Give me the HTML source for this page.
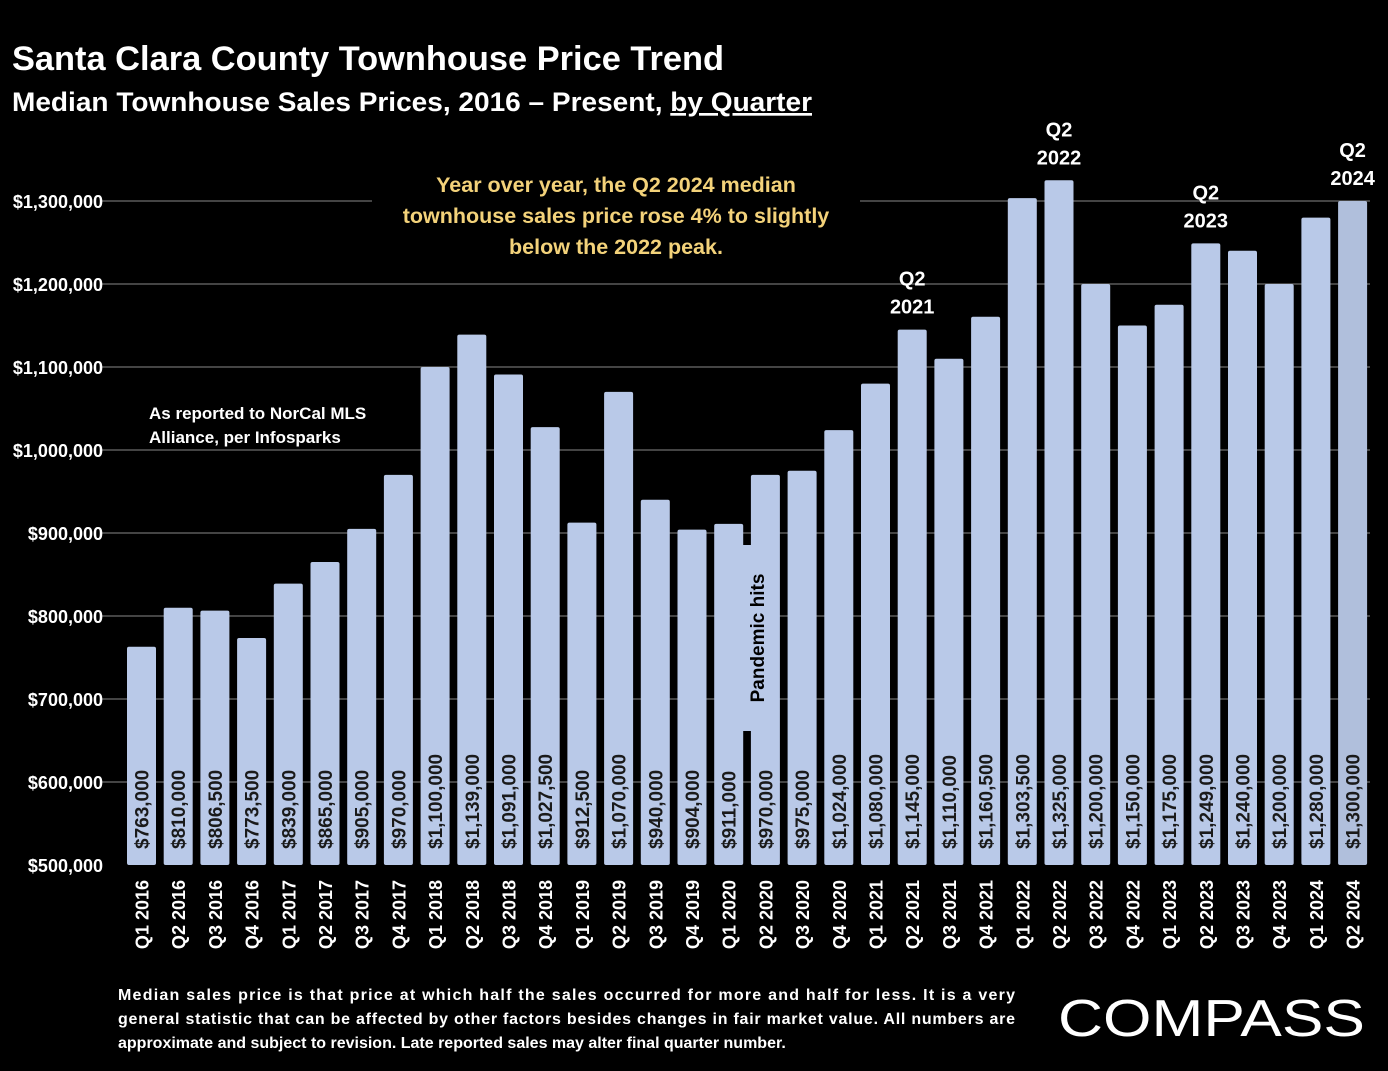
<!DOCTYPE html>
<html><head><meta charset="utf-8"><style>
body{margin:0;background:#000;width:1388px;height:1066px;overflow:hidden;font-family:"Liberation Sans",sans-serif}
</style></head><body>
<svg width="1388" height="1066" style="font-family:'Liberation Sans',sans-serif;font-weight:bold">
<text x="12" y="70" fill="#fff" font-size="34" textLength="712" lengthAdjust="spacingAndGlyphs">Santa Clara County Townhouse Price Trend</text>
<text x="12" y="111" fill="#fff" font-size="27" textLength="800" lengthAdjust="spacingAndGlyphs">Median Townhouse Sales Prices, 2016 – Present, <tspan text-decoration="underline">by Quarter</tspan></text>
<g id="grid"></g><g id="bars"></g><g id="labels"></g>
<rect x="372" y="170" width="488" height="95" fill="#000"/>
<text fill="#f3d27a" font-size="21.5" text-anchor="middle"><tspan x="616" y="192">Year over year, the Q2 2024 median</tspan><tspan x="616" y="223">townhouse sales price rose 4% to slightly</tspan><tspan x="616" y="254">below the 2022 peak.</tspan></text>
<text fill="#fff" font-size="17"><tspan x="149" y="419">As reported to NorCal MLS</tspan><tspan x="149" y="443">Alliance, per Infosparks</tspan></text>
<text fill="#fff" font-size="16"><tspan x="118" y="1000" textLength="897">Median sales price is that price at which half the sales occurred for more and half for less. It is a very</tspan><tspan x="118" y="1024" textLength="897">general statistic that can be affected by other factors besides changes in fair market value. All numbers are</tspan><tspan x="118" y="1048">approximate and subject to revision. Late reported sales may alter final quarter number.</tspan></text>
<text x="1058" y="1036" fill="#fff" font-size="52" font-weight="normal" textLength="307" lengthAdjust="spacingAndGlyphs">COMPASS</text>
</svg>
<script>
const categories=["Q1 2016","Q2 2016","Q3 2016","Q4 2016","Q1 2017","Q2 2017","Q3 2017","Q4 2017","Q1 2018","Q2 2018","Q3 2018","Q4 2018","Q1 2019","Q2 2019","Q3 2019","Q4 2019","Q1 2020","Q2 2020","Q3 2020","Q4 2020","Q1 2021","Q2 2021","Q3 2021","Q4 2021","Q1 2022","Q2 2022","Q3 2022","Q4 2022","Q1 2023","Q2 2023","Q3 2023","Q4 2023","Q1 2024","Q2 2024"];
const values=[763000,810000,806500,773500,839000,865000,905000,970000,1100000,1139000,1091000,1027500,912500,1070000,940000,904000,911000,970000,975000,1024000,1080000,1145000,1110000,1160500,1303500,1325000,1200000,1150000,1175000,1249000,1240000,1200000,1280000,1300000];
const yTicks=[500000,600000,700000,800000,900000,1000000,1100000,1200000,1300000];
const callouts=[[21,"Q2","2021"],[25,"Q2","2022"],[29,"Q2","2023"],[33,"Q2","2024"]];
const NS="http://www.w3.org/2000/svg";
const y=v=>865-(v-500000)*664/800000;
const x=i=>127+i*36.7;
const BW=29;
function mk(t,a,p){const e=document.createElementNS(NS,t);for(const k in a)e.setAttribute(k,a[k]);p.appendChild(e);return e;}
const grid=document.getElementById('grid'),bars=document.getElementById('bars'),labels=document.getElementById('labels');
yTicks.forEach(v=>{
  if(v>500000){const l=mk('line',{x1:100,x2:1370,y1:y(v),y2:y(v),stroke:'#5a5a5a','stroke-width':1.5},grid);
  
  }
  const t=mk('text',{x:103,y:y(v)+7,fill:'#fff','font-size':18,'text-anchor':'end'},labels);
  t.textContent='$'+v.toLocaleString('en-US');
  
  
});
values.forEach((v,i)=>{
  const r=mk('rect',{x:x(i),y:y(v),width:BW,height:865-y(v),rx:2,fill:i==33?'#b0bfdc':'#b9c9e8'},bars);
  
  
  const cx=x(i)+BW/2+7;
  const t=mk('text',{transform:`translate(${cx},849) rotate(-90)`,fill:'#1a1a1a','font-size':19},labels);
  t.textContent='$'+v.toLocaleString('en-US');
  
  
  const c=mk('text',{transform:`translate(${cx},880) rotate(-90)`,fill:'#fff','font-size':18,'text-anchor':'end'},labels);
  c.textContent=categories[i];
  
  
});
callouts.forEach(([i,a,b])=>{
  const cx=x(i)+BW/2, top=y(values[i]);
  const t=mk('text',{fill:'#fff','font-size':20,'text-anchor':'middle'},labels);
  
  
  mk('tspan',{x:cx,y:top-44},t).textContent=a;
  mk('tspan',{x:cx,y:top-16},t).textContent=b;
});
const pb=mk('rect',{x:742,y:545,width:30,height:186,fill:'#b9c9e8'},labels);


const pt=mk('text',{transform:'translate(764,638) rotate(-90)',fill:'#000','font-size':19,'text-anchor':'middle'},labels);
pt.textContent='Pandemic hits';


</script>
</body></html>
